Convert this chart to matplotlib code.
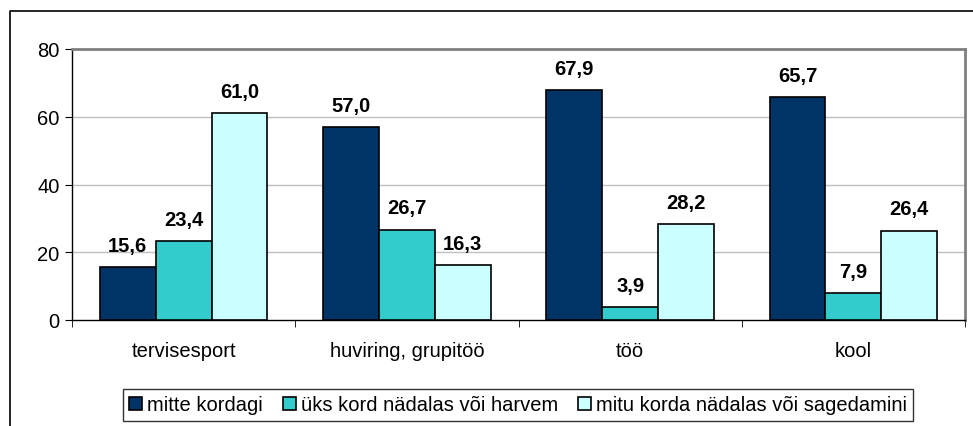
import matplotlib
matplotlib.use("Agg")
import matplotlib.pyplot as plt
import numpy as np
from matplotlib.lines import Line2D

plt.rcParams['font.family'] = ['Liberation Sans', 'DejaVu Sans']

categories = ["tervisesport", "huviring, grupitöö", "töö", "kool"]
series_names = ["mitte kordagi", "üks kord nädalas või harvem", "mitu korda nädalas või sagedamini"]
mitte = [15.6, 57.0, 67.9, 65.7]
uks = [23.4, 26.7, 3.9, 7.9]
mitu = [61.0, 16.3, 28.2, 26.4]
colors = ["#003366", "#33CCCC", "#CCFFFF"]
yticks = [0, 20, 40, 60, 80]

FS = 14.5

fig = plt.figure(figsize=(9.73, 4.27), dpi=100)
ax = fig.add_axes([72/973, 1-321/427, (965-72)/973, (321-50)/427])

x = np.arange(len(categories))
w = 0.25
for i, (vals, c, name) in enumerate(zip([mitte, uks, mitu], colors, series_names)):
    pos = x + (i - 1) * w
    ax.bar(pos, vals, w, color=c, edgecolor='black', linewidth=1.2, label=name, zorder=3)
    for p, v in zip(pos, vals):
        ax.text(p, v + 3.6, f"{v:.1f}".replace('.', ','), ha='center', va='bottom',
                fontsize=FS, fontweight='bold', zorder=4)

ax.set_xlim(-0.5, len(categories) - 0.5)
ax.set_ylim(0, 80)
ax.set_yticks(yticks)
ax.set_yticklabels([str(t) for t in yticks], fontsize=FS)
for t in yticks[1:-1]:
    ax.axhline(t, color='#c0c0c0', linewidth=1, zorder=1)

ax.set_xticks(x)
ax.set_xticklabels(categories, fontsize=FS)
ax.tick_params(axis='x', length=0, pad=15)
ax.set_xticks(np.arange(-0.5, len(categories)), minor=True)
ax.tick_params(axis='x', which='minor', length=5, direction='out', color='black')
ax.tick_params(axis='y', length=5, direction='out', color='black', pad=4)

for s in ['top', 'right']:
    ax.spines[s].set_color('#808080')
    ax.spines[s].set_linewidth(2)
ax.spines['left'].set_color('black')
ax.spines['bottom'].set_color('black')
ax.spines['left'].set_linewidth(1)
ax.spines['bottom'].set_linewidth(1)

leg = fig.legend(loc='center', bbox_to_anchor=(518/973, 1-406/427), ncol=3, frameon=True,
                 fontsize=FS, handlelength=0.65, handleheight=0.65, handletextpad=0.25,
                 columnspacing=1.0, borderpad=0.3, fancybox=False, edgecolor='black')
leg.get_frame().set_linewidth(1)

# outer chart frame
fig.add_artist(Line2D([10/973, 10/973, 1.0], [0.0, 1-12/427, 1-12/427],
                      transform=fig.transFigure, color='black', linewidth=1.2))

fig.savefig("out.png", dpi=100)
